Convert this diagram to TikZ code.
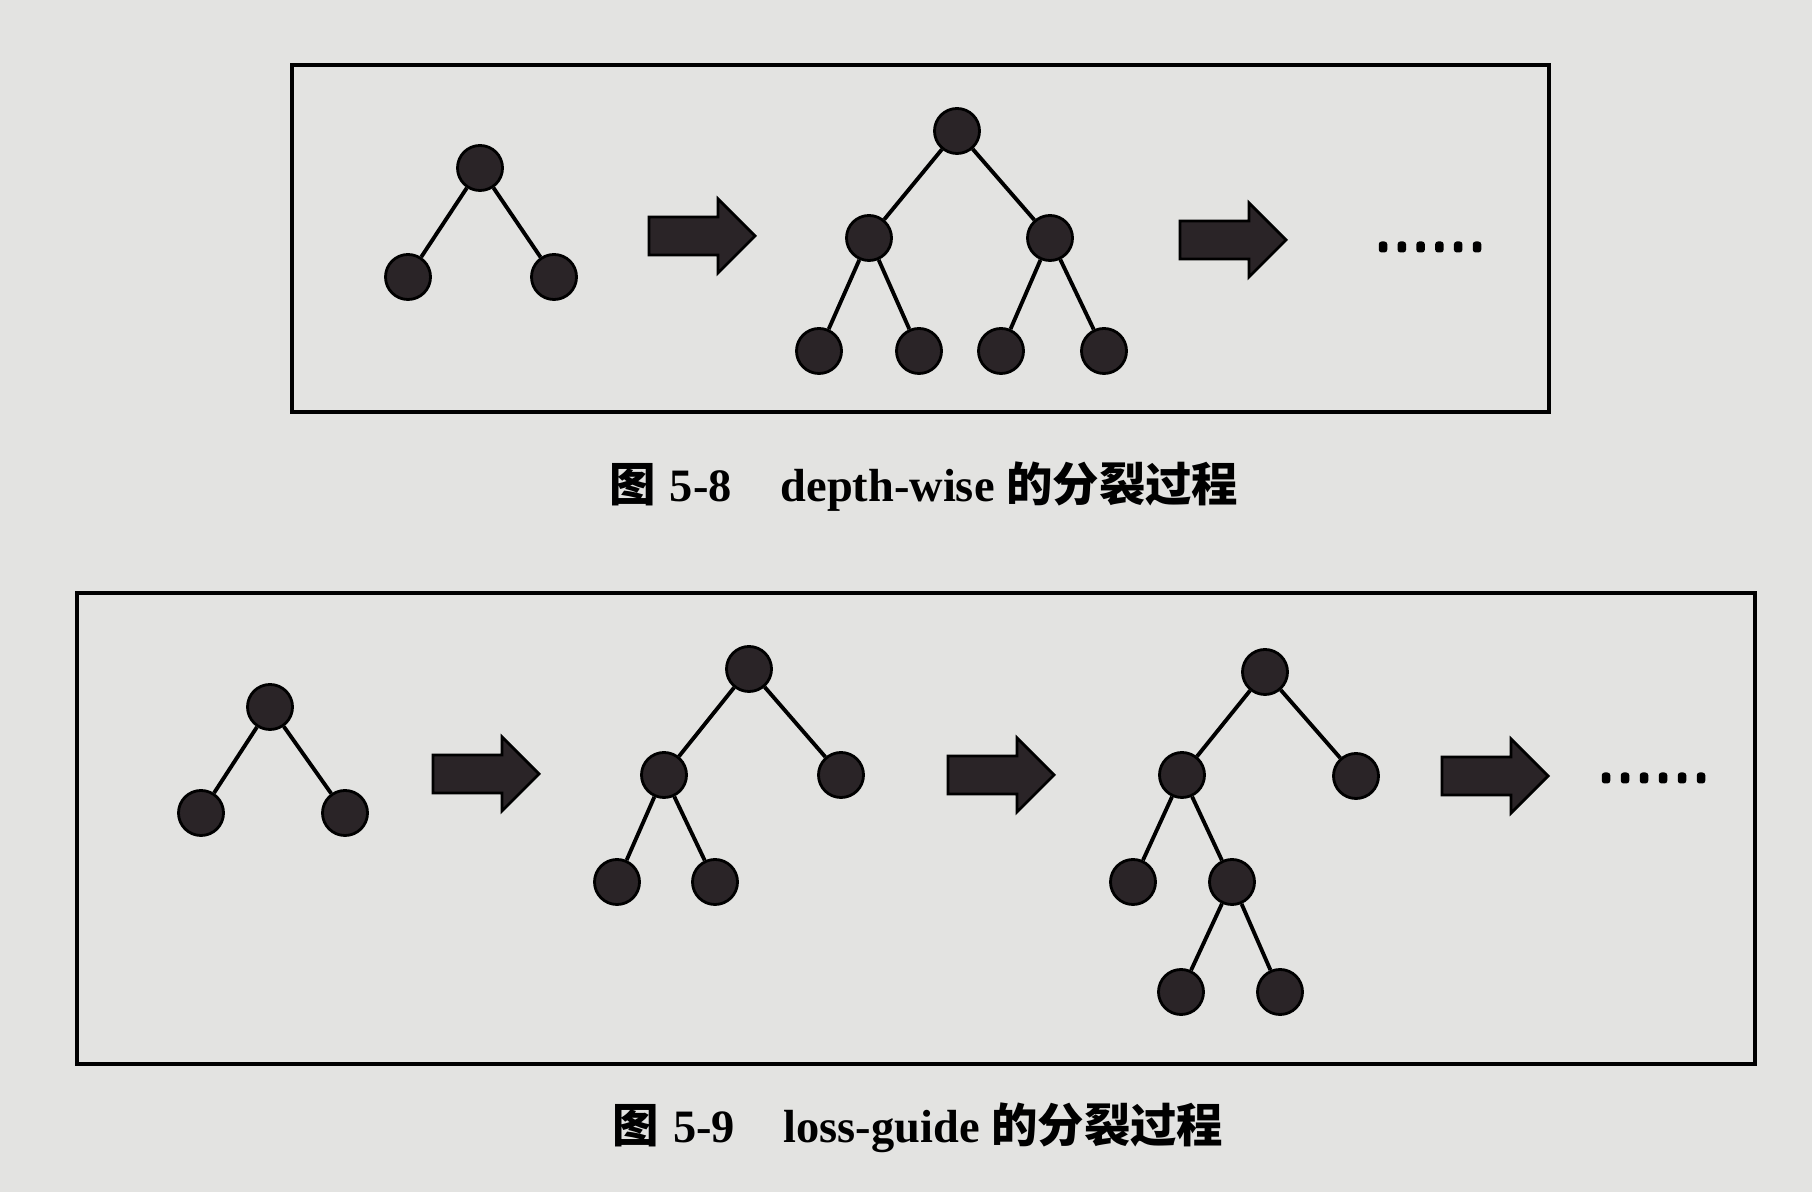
\documentclass[tikz,border=0pt]{standalone}
\usepackage{fontspec}
\setmainfont{Liberation Serif}
\newfontfamily\cjk{Noto Sans CJK SC}
\definecolor{paper}{HTML}{E3E3E1}
\definecolor{ink}{HTML}{2A2427}
\tikzset{
  tn/.style={circle,fill=ink,draw=black,line width=0.8pt,minimum size=0.45cm,inner sep=0pt},
  edge/.style={line width=1.1pt,black},
  frame/.style={line width=1.3pt,black},
  captext/.style={font=\fontsize{13.2pt}{15pt}\selectfont\bfseries,anchor=center,inner sep=0pt},
  ldot/.style={fill=black,rounded corners=0.8pt,minimum width=0.085cm,minimum height=0.11cm,inner sep=0pt},
  barrow/.pic={\filldraw[fill=ink,draw=black,line width=0.8pt] (0,-19) -- (69,-19) -- (69,-37) -- (106,0) -- (69,37) -- (69,19) -- (0,19) -- cycle;}
}
\begin{document}
\begin{tikzpicture}[x=0.01cm,y=-0.01cm]
\fill[paper] (0,0) rectangle (1812,1192);
\useasboundingbox (0,0) rectangle (1812,1192);
% frames
\draw[frame] (292,65) rectangle (1549,412);
\draw[frame] (77,593) rectangle (1755,1064);
% ---- top figure ----
\node[tn] (a1) at (480,168) {};
\node[tn] (a2) at (408,277) {};
\node[tn] (a3) at (554,277) {};
\draw[edge] (a1) -- (a2) (a1) -- (a3);
\pic (ta1) at (649,236) {barrow};
\node[tn] (b1) at (957,131) {};
\node[tn] (b2) at (869,238) {};
\node[tn] (b3) at (1050,238) {};
\node[tn] (b4) at (819,351) {};
\node[tn] (b5) at (919,351) {};
\node[tn] (b6) at (1001,351) {};
\node[tn] (b7) at (1104,351) {};
\draw[edge] (b1) -- (b2) (b1) -- (b3) (b2) -- (b4) (b2) -- (b5) (b3) -- (b6) (b3) -- (b7);
\pic (ta2) at (1180,240) {barrow};
\foreach \i in {0,...,5} \node[ldot] (td\i) at ({1383+18.8*\i},247) {};
\node[captext] (cap1) at (924,487) {{\cjk 图}\hspace{0.3em}5-8\hspace{1.05em}depth-wise {\cjk 的分裂过程}};
% ---- bottom figure ----
\node[tn] (c1) at (270,707) {};
\node[tn] (c2) at (201,813) {};
\node[tn] (c3) at (345,813) {};
\draw[edge] (c1) -- (c2) (c1) -- (c3);
\pic (ba1) at (433,774) {barrow};
\node[tn] (e1) at (749,669) {};
\node[tn] (e2) at (664,775) {};
\node[tn] (e3) at (841,775) {};
\node[tn] (e4) at (617,882) {};
\node[tn] (e5) at (715,882) {};
\draw[edge] (e1) -- (e2) (e1) -- (e3) (e2) -- (e4) (e2) -- (e5);
\pic (ba2) at (948,775) {barrow};
\node[tn] (f1) at (1265,672) {};
\node[tn] (f2) at (1182,775) {};
\node[tn] (f3) at (1356,776) {};
\node[tn] (f4) at (1133,882) {};
\node[tn] (f5) at (1232,882) {};
\node[tn] (f6) at (1181,992) {};
\node[tn] (f7) at (1280,992) {};
\draw[edge] (f1) -- (f2) (f1) -- (f3) (f2) -- (f4) (f2) -- (f5) (f5) -- (f6) (f5) -- (f7);
\pic (ba3) at (1442,776) {barrow};
\foreach \i in {0,...,5} \node[ldot] (bd\i) at ({1606+19*\i},778) {};
\node[captext] (cap2) at (918,1128) {{\cjk 图}\hspace{0.3em}5-9\hspace{1.05em}loss-guide {\cjk 的分裂过程}};
\end{tikzpicture}
\end{document}
